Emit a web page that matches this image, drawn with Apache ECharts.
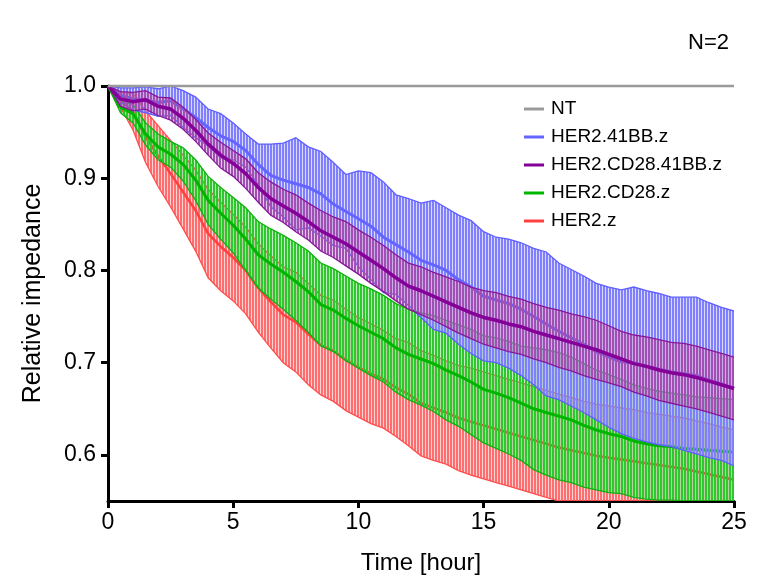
<!DOCTYPE html>
<html>
<head>
<meta charset="utf-8">
<script src="https://cdn.jsdelivr.net/npm/echarts@6/dist/echarts.min.js"></script>
<style>
html,body{margin:0;padding:0;background:#fff;}
#chart{width:759px;height:588px;}
</style>
</head>
<body>
<div id="chart"></div>
<script>
// ---- data ----
const times = [0,0.5,1,1.5,2,2.5,3,3.5,4,4.5,5,5.5,6,6.5,7,7.5,8,8.5,9,9.5,10,10.5,11,11.5,12,12.5,13,13.5,14,14.5,15,15.5,16,16.5,17,17.5,18,18.5,19,19.5,20,20.5,21,21.5,22,22.5,23,23.5,24,24.5,25];

const seriesNames = ['NT','HER2.41BB.z','HER2.CD28.41BB.z','HER2.CD28.z','HER2.z'];

const ntTime = [0, 25];
const ntMean = [1.0, 1.0];

const blueMean = [1.000,0.990,0.986,0.985,0.982,0.984,0.975,0.966,0.955,0.946,
0.940,0.930,0.915,0.903,0.898,0.894,0.890,0.883,0.872,0.864,
0.856,0.848,0.836,0.828,0.820,0.811,0.806,0.800,0.790,0.782,
0.772,0.768,0.764,0.758,0.750,0.742,0.734,0.727,0.720,0.712,
0.706,0.701,0.700,0.696,0.693,0.690,0.688,0.686,0.681,0.677,
0.672];
const blueSd = [0,0.008,0.012,0.014,0.015,0.016,0.020,0.022,0.020,0.024,
0.020,0.018,0.022,0.034,0.040,0.050,0.044,0.046,0.045,0.040,
0.052,0.058,0.060,0.054,0.058,0.062,0.070,0.068,0.070,0.072,
0.070,0.068,0.070,0.072,0.074,0.078,0.074,0.074,0.074,0.074,
0.076,0.078,0.082,0.082,0.082,0.081,0.083,0.085,0.084,0.083,
0.084];

const purpleMean = [1.000,0.986,0.983,0.985,0.978,0.975,0.965,0.952,0.937,0.925,
0.916,0.905,0.890,0.878,0.870,0.862,0.853,0.843,0.836,0.829,
0.820,0.811,0.802,0.792,0.783,0.778,0.772,0.766,0.760,0.754,
0.749,0.746,0.742,0.739,0.734,0.730,0.726,0.722,0.718,0.714,
0.709,0.704,0.699,0.696,0.692,0.689,0.687,0.684,0.680,0.676,
0.672];
const purpleSd = [0,0.008,0.010,0.010,0.010,0.012,0.012,0.012,0.012,0.014,
0.014,0.016,0.016,0.018,0.018,0.020,0.020,0.022,0.022,0.024,
0.024,0.025,0.025,0.025,0.025,0.026,0.026,0.027,0.028,0.028,
0.029,0.030,0.030,0.030,0.030,0.030,0.031,0.031,0.032,0.032,
0.031,0.030,0.031,0.032,0.033,0.033,0.034,0.034,0.034,0.034,
0.034];

const greenMean = [1.000,0.977,0.970,0.948,0.934,0.926,0.915,0.898,0.876,0.862,
0.849,0.834,0.817,0.807,0.798,0.788,0.777,0.763,0.757,0.748,
0.740,0.733,0.726,0.716,0.709,0.704,0.699,0.692,0.686,0.679,
0.671,0.667,0.662,0.656,0.650,0.646,0.642,0.638,0.632,0.627,
0.623,0.620,0.615,0.612,0.610,0.609,0.607,0.606,0.605,0.604,
0.603];
const greenSd = [0,0.006,0.010,0.012,0.014,0.014,0.018,0.022,0.026,0.028,
0.030,0.034,0.036,0.038,0.040,0.042,0.044,0.045,0.045,0.046,
0.046,0.047,0.047,0.048,0.049,0.050,0.052,0.054,0.055,0.057,
0.058,0.060,0.061,0.062,0.066,0.068,0.069,0.068,0.067,0.065,
0.064,0.062,0.061,0.060,0.059,0.058,0.058,0.057,0.057,0.057,
0.057];

const redMean = [1.000,0.985,0.972,0.945,0.924,0.905,0.885,0.865,0.840,0.826,
0.814,0.800,0.781,0.766,0.752,0.744,0.731,0.719,0.713,0.703,
0.695,0.688,0.682,0.673,0.666,0.656,0.651,0.646,0.640,0.636,
0.632,0.628,0.624,0.620,0.616,0.612,0.608,0.605,0.602,0.599,
0.597,0.595,0.593,0.591,0.589,0.587,0.585,0.582,0.579,0.576,
0.573];
const redSd = [0,0.008,0.020,0.028,0.033,0.036,0.040,0.044,0.048,0.048,
0.047,0.047,0.048,0.050,0.052,0.054,0.055,0.054,0.055,0.055,
0.054,0.054,0.053,0.053,0.056,0.057,0.057,0.056,0.057,0.058,
0.058,0.058,0.058,0.058,0.058,0.058,0.058,0.057,0.056,0.056,
0.056,0.056,0.056,0.055,0.055,0.055,0.055,0.055,0.055,0.054,
0.054];

const xTicks = [0,5,10,15,20,25];
const yTicks = [0.6,0.7,0.8,0.9,1.0];
const yMin = 0.55, yMax = 1.0;

// ---- styling ----
const FONT = "'Liberation Sans', Arial, sans-serif";

function stripe(color, gapColor){
  const c = document.createElement('canvas');
  c.width = 3; c.height = 4;
  const g = c.getContext('2d');
  g.fillStyle = color;
  g.fillRect(0,0,2,4);
  g.fillStyle = gapColor;
  g.fillRect(2,0,1,4);
  return c;
}

function bandSeries(mean, sd, fill, gap, edge, z){
  const pat = stripe(fill, gap);
  return {
    type: 'custom',
    coordinateSystem: 'cartesian2d',
    silent: true,
    clip: true,
    z: z,
    data: [[times[0], mean[0]]],
    renderItem: function(params, api){
      if (params.dataIndex !== 0) return null;
      const up = [], lo = [];
      for (let i = 0; i < times.length; i++){
        up.push(api.coord([times[i], Math.max(yMin, Math.min(yMax, mean[i] + sd[i]))]));
        lo.push(api.coord([times[i], Math.max(yMin, mean[i] - sd[i])]));
      }
      return {
        type: 'group',
        children: [
          {type:'polygon', shape:{points: up.concat(lo.slice().reverse())},
           style:{fill:{image: pat, repeat:'repeat'}}},
          {type:'polyline', shape:{points: up}, style:{stroke: edge, lineWidth: 1.3, fill: null}},
          {type:'polyline', shape:{points: lo}, style:{stroke: edge, lineWidth: 1.3, fill: null}}
        ]
      };
    }
  };
}

function meanSeries(name, xs, ys, color, width, z){
  return {
    name: name,
    type: 'line',
    data: xs.map((t, i) => [t, ys[i]]),
    showSymbol: false,
    symbol: 'none',
    clip: false,
    z: z,
    color: color,
    lineStyle: {color: color, width: width},
    emphasis: {disabled: true}
  };
}

const chart = echarts.init(document.getElementById('chart'), null, {renderer: 'canvas'});

const option = {
  animation: false,
  backgroundColor: '#fff',
  grid: {left: 108, right: 25, top: 86, bottom: 87, containLabel: false},
  legend: {
    orient: 'vertical',
    left: 519,
    top: 94,
    icon: 'rect',
    itemWidth: 20,
    itemHeight: 3,
    itemGap: 8,
    data: seriesNames,
    textStyle: {fontFamily: FONT, fontSize: 19, color: '#000', lineHeight: 20, padding: [0,0,0,2]},
    selectedMode: false
  },
  graphic: [
    {type: 'text', left: 688, top: 32,
     style: {text: 'N=2', fontFamily: FONT, fontSize: 22, fill: '#000'}}
  ],
  xAxis: {
    type: 'value',
    min: 0, max: 25, interval: 5,
    name: 'Time [hour]',
    nameLocation: 'middle',
    nameGap: 50,
    nameTextStyle: {fontFamily: FONT, fontSize: 24, color: '#000'},
    axisLine: {show: true, onZero: false, lineStyle: {color: '#000', width: 3}},
    axisTick: {show: true, length: 7, lineStyle: {color: '#000', width: 3}, customValues: xTicks},
    axisLabel: {fontFamily: FONT, fontSize: 23, color: '#000', margin: 10, customValues: xTicks},
    splitLine: {show: false}
  },
  yAxis: {
    type: 'value',
    min: yMin, max: yMax,
    name: 'Relative impedance',
    nameLocation: 'middle',
    nameGap: 62,
    nameRotate: 90,
    nameTextStyle: {fontFamily: FONT, fontSize: 25, color: '#000'},
    axisLine: {show: true, onZero: false, lineStyle: {color: '#000', width: 3}},
    axisTick: {show: true, length: 7, lineStyle: {color: '#000', width: 3}, customValues: yTicks},
    axisLabel: {fontFamily: FONT, fontSize: 23, color: '#000', margin: 12, customValues: yTicks,
                formatter: v => v.toFixed(1)},
    splitLine: {show: false}
  },
  series: [
    bandSeries(redMean, redSd, '#ff6e6e', 'rgba(255,110,110,0.3)', '#ff4d4d', 1),
    meanSeries('HER2.z', times, redMean, '#ff4040', 2.5, 2),
    bandSeries(greenMean, greenSd, '#2ec82e', 'rgba(46,200,46,0.3)', '#10b010', 3),
    meanSeries('HER2.CD28.z', times, greenMean, '#00b400', 3, 4),
    bandSeries(blueMean, blueSd, '#8080ff', 'rgba(128,128,255,0.3)', '#5f5fff', 5),
    meanSeries('HER2.41BB.z', times, blueMean, '#6464ff', 3, 6),
    bandSeries(purpleMean, purpleSd, '#a24fb3', 'rgba(162,79,179,0.3)', '#87179a', 7),
    meanSeries('HER2.CD28.41BB.z', times, purpleMean, '#850099', 3.5, 8),
    meanSeries('NT', ntTime, ntMean, '#9a9a9a', 2.5, 9)
  ]
};
chart.setOption(option);
</script>
</body>
</html>
